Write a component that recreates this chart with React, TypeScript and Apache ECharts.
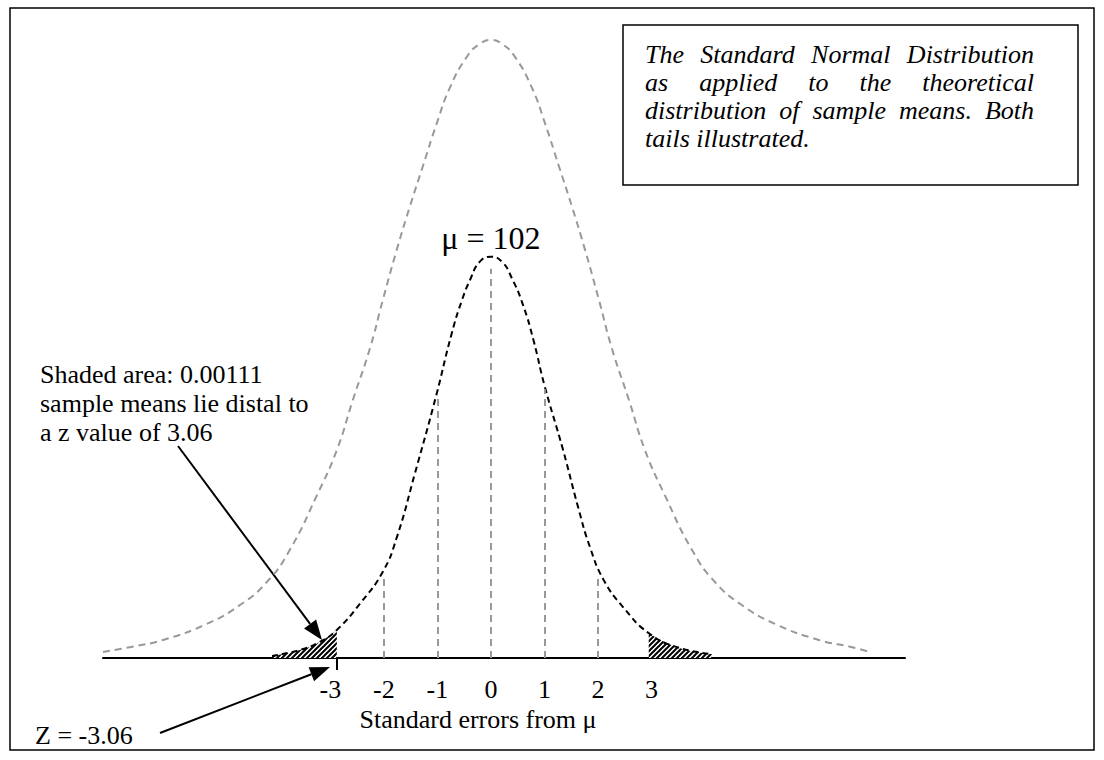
import React, { useEffect, useRef } from "react";
import * as echarts from "echarts";

// Population (grey) curve: z position and relative height
const grayZ = [-7.25, -6.75, -6.13, -5.31, -4.69, -4.19, -3.76, -3.25, -2.88, -2.58, -2.26, -2.02, -1.76, -1.51, -1.27, -1.01, -0.77, -0.45, -0.21, 0, 0.21, 0.45, 0.77, 1.01, 1.27, 1.51, 1.76, 2.02, 2.26, 2.58, 2.88, 3.25, 3.76, 4.19, 4.69, 5.31, 6.13, 6.75, 7.08];
const grayH = [1.5, 2.7, 4.5, 8.5, 13.2, 18.9, 26.9, 40.6, 51.8, 64.3, 77.2, 89.2, 101.7, 112.7, 122.6, 133.3, 142.0, 149.8, 153.0, 154.0, 153.0, 149.8, 142.0, 133.3, 122.6, 112.7, 101.7, 89.2, 77.2, 64.3, 51.8, 40.6, 26.9, 18.9, 13.2, 8.5, 4.5, 2.7, 1.5];

// Sampling distribution (black) curve
const blackZ = [-4.09, -3.57, -3.2, -2.88, -2.45, -2.02, -1.76, -1.42, -1.03, -0.73, -0.54, -0.39, -0.21, 0, 0.21, 0.39, 0.6, 0.8, 1.0, 1.35, 1.63, 1.85, 2.11, 2.47, 2.95, 3.48, 4.13];
const blackH = [0.5, 2.0, 4.0, 7.0, 13.5, 21.5, 30.0, 46.0, 65.0, 81.0, 89.2, 94.2, 98.7, 100, 98.7, 94.7, 88.0, 79.0, 68.0, 51.8, 37.6, 27.7, 19.4, 12.7, 6.2, 2.7, 1.0];

// Vertical guide lines under the black curve
const guideZ = [-2, -1, 0, 1, 2];
const guideH = [21, 65, 97, 67, 20];

const tickLabels = [-3, -2, -1, 0, 1, 2, 3];
const leftTailEnd = -2.88;
const rightTailStart = 2.95;
const zMarker = -2.88;

const meanLabel = "μ = 102";
const axisTitle = "Standard errors from μ";
const noteLines = ["Shaded area: 0.00111", "sample means lie distal to", "a z value of 3.06"];
const zLabel = "Z = -3.06";
const boxLines = [
  "The Standard Normal Distribution",
  "as applied to the theoretical",
  "distribution of sample means. Both",
  "tails illustrated.",
];

const SERIF = '"Liberation Serif", "Times New Roman", serif';

function arrow(x1: number, y1: number, x2: number, y2: number) {
  const dx = x2 - x1, dy = y2 - y1;
  const len = Math.hypot(dx, dy);
  const ux = dx / len, uy = dy / len;
  const L = 20, W = 7.5;
  const bx = x2 - ux * L, by = y2 - uy * L;
  const px = -uy, py = ux;
  return [
    { type: "line", shape: { x1, y1, x2: bx, y2: by }, style: { stroke: "#000", lineWidth: 2 } },
    {
      type: "polygon",
      shape: { points: [[x2, y2], [bx + px * W, by + py * W], [bx - px * W, by - py * W]] },
      style: { fill: "#000" },
    },
  ];
}

export default function App() {
  const ref = useRef<HTMLDivElement>(null);
  useEffect(() => {
    const chart = echarts.init(ref.current!, null, { renderer: "svg" });

    // hatch pattern
    const c = document.createElement("canvas");
    c.width = 5; c.height = 5;
    const g = c.getContext("2d")!;
    g.fillStyle = "#fff"; g.fillRect(0, 0, 5, 5);
    g.strokeStyle = "#000"; g.lineWidth = 2;
    g.beginPath();
    g.moveTo(-1, 6); g.lineTo(6, -1);
    g.moveTo(-3, 3); g.lineTo(3, -3);
    g.moveTo(2, 8); g.lineTo(8, 2);
    g.stroke();
    const hatch: any = { image: c, repeat: "repeat", imageWidth: 5, imageHeight: 5 };

    const black = blackZ.map((z, i) => [z, blackH[i]]);
    const gray = grayZ.map((z, i) => [z, grayH[i]]);
    const leftTail = black.filter((p) => p[0] <= leftTailEnd);
    const rightTail = black.filter((p) => p[0] >= rightTailStart);

    // justified box text
    const mctx = document.createElement("canvas").getContext("2d")!;
    const boxFont = 26;
    mctx.font = `italic ${boxFont}px "Liberation Serif"`;
    const textLeft = 645, textRight = 1034;
    const lineY0 = 54, lineGap = 28;
    const boxTexts: any[] = [];
    boxLines.forEach((line, li) => {
      const words = line.split(" ");
      const widths = words.map((w) => mctx.measureText(w).width);
      const sum = widths.reduce((a, b) => a + b, 0);
      const last = li === boxLines.length - 1;
      const gap = last || words.length < 2 ? mctx.measureText(" ").width : (textRight - textLeft - sum) / (words.length - 1);
      let x = textLeft;
      words.forEach((w, wi) => {
        boxTexts.push({
          type: "text", x, y: lineY0 + li * lineGap,
          style: { text: w, fontSize: boxFont, fontFamily: SERIF, fontStyle: "italic", fill: "#000", align: "left", verticalAlign: "middle" },
        });
        x += widths[wi] + gap;
      });
    });

    const option: any = {
      animation: false,
      backgroundColor: "#fff",
      grid: { left: 103, right: 199, top: 40, bottom: 102 },
      xAxis: {
        type: "value", min: -7.25, max: 7.74,
        axisLine: { show: true, onZero: false, lineStyle: { color: "#000", width: 2 } },
        splitLine: { show: false },
        axisTick: { show: true, customValues: [zMarker], length: 12, inside: false, lineStyle: { color: "#000", width: 2 } },
        axisLabel: { customValues: tickLabels, color: "#000", fontFamily: SERIF, fontSize: 26, margin: 18 },
      },
      yAxis: { type: "value", min: 0, max: 154, show: false },
      series: [
        {
          type: "line", data: gray, smooth: 0.5, showSymbol: false, silent: true,
          lineStyle: { color: "#999", width: 2, type: [7, 5] }, z: 2,
        },
        {
          type: "line", data: leftTail, smooth: 0.5, showSymbol: false, silent: true,
          lineStyle: { width: 0 }, areaStyle: { color: hatch, opacity: 1 }, z: 3,
        },
        {
          type: "line", data: rightTail, smooth: 0.5, showSymbol: false, silent: true,
          lineStyle: { width: 0 }, areaStyle: { color: hatch, opacity: 1 }, z: 3,
        },
        {
          type: "line", data: black, smooth: 0.5, showSymbol: false, silent: true,
          lineStyle: { color: "#000", width: 2, type: [6, 4] }, z: 4,
          markLine: {
            silent: true, symbol: "none", label: { show: false },
            lineStyle: { color: "#999", width: 2, type: [7, 5] },
            data: guideZ.map((z, i) => [{ coord: [z, 0] }, { coord: [z, guideH[i]] }]),
          },
          markPoint: {
            symbol: "circle", symbolSize: 1, itemStyle: { color: "transparent" },
            label: { show: true, formatter: meanLabel, position: "top", distance: 2, fontSize: 32, fontFamily: SERIF, color: "#000" },
            data: [{ coord: [0, 100] }],
          },
        },
      ],
      graphic: [
        { type: "rect", shape: { x: 10, y: 8, width: 1084, height: 742 }, style: { fill: "none", stroke: "#000", lineWidth: 1.5 }, z: 1 },
        { type: "rect", shape: { x: 623, y: 25, width: 455, height: 160 }, style: { fill: "#fff", stroke: "#000", lineWidth: 1.5 }, z: 10 },
        ...boxTexts.map((t) => ({ ...t, z: 11 })),
        ...noteLines.map((t, i) => ({
          type: "text", x: 40, y: 374 + i * 29,
          style: { text: t, fontSize: 26, fontFamily: SERIF, fill: "#000", align: "left", verticalAlign: "middle" },
        })),
        ...arrow(178, 446, 322, 640),
        ...arrow(160, 733, 330, 667),
        { type: "text", x: 35, y: 735, style: { text: zLabel, fontSize: 26, fontFamily: SERIF, fill: "#000", align: "left", verticalAlign: "middle" } },
        { type: "text", x: 478, y: 719, style: { text: axisTitle, fontSize: 26, fontFamily: SERIF, fill: "#000", align: "center", verticalAlign: "middle" } },
      ],
    };
    chart.setOption(option);
    return () => chart.dispose();
  }, []);
  return <div ref={ref} style={{ position: "absolute", left: 0, top: 0, width: 1104, height: 760, background: "#fff" }} />;
}
